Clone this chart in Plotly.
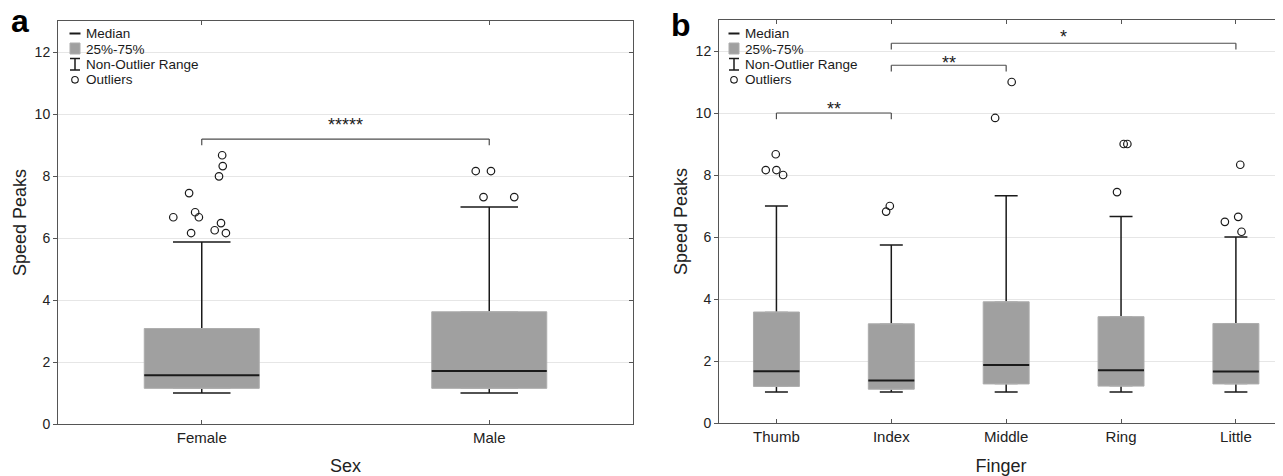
import plotly.graph_objects as go

# page places the figure with an 8px body margin; compensate so the figure fills the 1283x476 view
OFF = 8
W, H = 1283 - OFF, 476 - OFF

# ---------------- data: panel a (Sex) ----------------
sex_cats = ["Female", "Male"]
sex_q1 = [1.15, 1.15]
sex_median = [1.57, 1.71]
sex_q3 = [3.08, 3.62]
sex_low = [1.0, 1.0]
sex_high = [5.87, 7.0]
sex_out_group = [0, 0, 0, 0, 0, 0, 0, 0, 0, 0, 0, 1, 1, 1, 1]
sex_out_jitter = [0.071, 0.073, 0.060, -0.044, -0.023, -0.099, -0.010, 0.067, -0.037, 0.045, 0.084,
                  -0.047, 0.006, -0.020, 0.087]
sex_out_values = [8.67, 8.32, 7.99, 7.45, 6.83, 6.67, 6.67, 6.48, 6.16, 6.25, 6.16,
                  8.16, 8.16, 7.32, 7.32]
sex_brackets = [(0, 1, 9.19, "*****", 9.66)]

# ---------------- data: panel b (Finger) ----------------
finger_cats = ["Thumb", "Index", "Middle", "Ring", "Little"]
finger_q1 = [1.18, 1.09, 1.26, 1.19, 1.26]
finger_median = [1.67, 1.37, 1.87, 1.70, 1.66]
finger_q3 = [3.58, 3.20, 3.91, 3.43, 3.21]
finger_low = [1.0, 1.0, 1.0, 1.0, 1.0]
finger_high = [7.0, 5.74, 7.33, 6.66, 6.0]
finger_out_group = [0, 0, 0, 0, 1, 1, 2, 2, 3, 3, 3, 4, 4, 4, 4]
finger_out_jitter = [-0.093, 0.0, -0.006, 0.058, -0.045, -0.013, -0.096, 0.048,
                     -0.035, 0.023, 0.055, -0.096, 0.020, 0.049, 0.038]
finger_out_values = [8.16, 8.16, 8.67, 8.0, 6.82, 7.0, 9.84, 11.0,
                     7.45, 9.0, 9.0, 6.49, 6.65, 6.17, 8.33]
finger_brackets = [(0, 1, 10.0, "**", 10.13), (1, 2, 11.54, "**", 11.61), (1, 4, 12.25, "*", 12.46)]

y_ticks = [0, 2, 4, 6, 8, 10, 12]
legend_labels = ["Median", "25%-75%", "Non-Outlier Range", "Outliers"]

# ---------------- style ----------------
FONT = "Liberation Sans, Arial, sans-serif"
BOX_FILL = "#a0a0a0"
BOX_EDGE = "#adadad"
INK = "#1a1a1a"
AXIS = "#555555"
GRID = "#e6e6e6"
BOX_W = 0.4
BRACKET_DROP = 0.2


def px_x(p):
    return (p - OFF) / W


def px_y(p):
    return 1 - (p - OFF) / H


fig = go.Figure()


def add_panel(xref, yref, cats, q1, med, q3, lo, hi, og, oj, ov):
    pos = list(range(len(cats)))
    common = dict(x=pos, orientation="v", width=BOX_W, whiskerwidth=0.5, boxpoints=False,
                  showlegend=False, hoverinfo="skip", xaxis=xref, yaxis=yref)
    # whiskers (from median to fences) - box body covers the inner part
    fig.add_trace(go.Box(q1=med, median=med, q3=med, lowerfence=lo, upperfence=hi,
                         line=dict(color=INK, width=1.5), fillcolor="rgba(0,0,0,0)", **common))
    # 25%-75% body
    fig.add_trace(go.Box(q1=q1, median=med, q3=q3, lowerfence=q1, upperfence=q3,
                         line=dict(color=BOX_EDGE, width=1), fillcolor=BOX_FILL, **common))
    # median line
    fig.add_trace(go.Box(q1=med, median=med, q3=med, lowerfence=med, upperfence=med,
                         line=dict(color=INK, width=2), fillcolor="rgba(0,0,0,0)", **common))
    # outliers
    fig.add_trace(go.Scatter(x=[g + j for g, j in zip(og, oj)], y=ov, mode="markers",
                             marker=dict(symbol="circle-open", size=7.5, color=INK,
                                         line=dict(width=1.2, color=INK)),
                             showlegend=False, hoverinfo="skip", xaxis=xref, yaxis=yref))


add_panel("x", "y", sex_cats, sex_q1, sex_median, sex_q3, sex_low, sex_high,
          sex_out_group, sex_out_jitter, sex_out_values)
add_panel("x2", "y2", finger_cats, finger_q1, finger_median, finger_q3, finger_low, finger_high,
          finger_out_group, finger_out_jitter, finger_out_values)

# dummy trace so the right-hand (inside-tick) overlay axis of panel a is drawn
fig.add_trace(go.Scatter(x=[None], y=[None], xaxis="x", yaxis="y3", showlegend=False, hoverinfo="skip"))

shapes = []
annotations = []

# significance brackets
for xr, yr, brackets in (("x", "y", sex_brackets), ("x2", "y2", finger_brackets)):
    for i, j, yv, lab, ylab in brackets:
        for (x0, y0, x1, y1) in ((i, yv - BRACKET_DROP, i, yv), (i, yv, j, yv), (j, yv, j, yv - BRACKET_DROP)):
            shapes.append(dict(type="line", xref=xr, yref=yr, x0=x0, y0=y0, x1=x1, y1=y1,
                               line=dict(color="#4d4d4d", width=1.2)))
        annotations.append(dict(x=(i + j) / 2, y=ylab, xref=xr, yref=yr, text=lab, showarrow=False,
                                xanchor="center", yanchor="middle",
                                font=dict(family=FONT, size=18, color=INK)))

# custom legends (pixel positions inside each panel)
for sym_cx, text_x in ((75, 85), (734, 744)):
    shapes.append(dict(type="line", xref="paper", yref="paper", x0=px_x(sym_cx - 5.5), x1=px_x(sym_cx + 5.5),
                       y0=px_y(33.5), y1=px_y(33.5), line=dict(color=INK, width=2)))
    shapes.append(dict(type="rect", xref="paper", yref="paper", x0=px_x(sym_cx - 5), x1=px_x(sym_cx + 5),
                       y0=px_y(54), y1=px_y(43), fillcolor=BOX_FILL, line=dict(color=BOX_EDGE, width=1)))
    shapes.append(dict(type="line", xref="paper", yref="paper", x0=px_x(sym_cx), x1=px_x(sym_cx),
                       y0=px_y(58.5), y1=px_y(70), line=dict(color=INK, width=1.5)))
    for yy in (58.5, 70):
        shapes.append(dict(type="line", xref="paper", yref="paper", x0=px_x(sym_cx - 5), x1=px_x(sym_cx + 5),
                           y0=px_y(yy), y1=px_y(yy), line=dict(color=INK, width=1.5)))
    shapes.append(dict(type="circle", xref="paper", yref="paper", x0=px_x(sym_cx - 3.3), x1=px_x(sym_cx + 3.3),
                       y0=px_y(79.8 - 3.3), y1=px_y(79.8 + 3.3), line=dict(color=INK, width=1.1)))
    for lab, yc in zip(legend_labels, (33.5, 49, 64, 79.5)):
        annotations.append(dict(x=px_x(text_x), y=px_y(yc), xref="paper", yref="paper", text=lab,
                                showarrow=False, xanchor="left", yanchor="middle",
                                font=dict(family=FONT, size=13.5, color=INK), borderpad=0))

# panel letters
annotations.append(dict(x=px_x(9), y=px_y(21), xref="paper", yref="paper", text="<b>a</b>", showarrow=False,
                        xanchor="left", yanchor="middle", font=dict(family=FONT, size=32, color="#000")))
annotations.append(dict(x=px_x(669), y=px_y(25), xref="paper", yref="paper", text="<b>b</b>", showarrow=False,
                        xanchor="left", yanchor="middle", font=dict(family=FONT, size=32, color="#000")))

xa_dom = [px_x(58), px_x(633)]
xb_dom = [px_x(719), 1.0]
ya_dom = [px_y(424), px_y(21)]
yb_dom = [px_y(423), px_y(20)]

tickfont = dict(family=FONT, size=14, color="#222")
catfont = dict(family=FONT, size=15, color="#222")
titlefont = dict(family=FONT, size=18, color="#222")

base_y = dict(range=[0, 13], tickvals=y_ticks, showgrid=True, gridcolor=GRID, gridwidth=1,
              zeroline=False, showline=True, linecolor=AXIS, linewidth=1, ticks="outside", ticklen=4,
              tickcolor=AXIS, tickfont=tickfont,
              title=dict(text="Speed Peaks", font=titlefont, standoff=3))
base_x = dict(showgrid=False, zeroline=False, showline=True, linecolor=AXIS, linewidth=1, mirror="ticks",
              ticks="inside", ticklen=4, tickcolor=AXIS, tickfont=catfont)

fig.update_layout(
    width=W, height=H,
    margin=dict(l=0, r=0, t=0, b=0, autoexpand=False),
    paper_bgcolor="white", plot_bgcolor="white",
    boxmode="overlay",
    showlegend=False,
    xaxis=dict(domain=xa_dom, anchor="y", range=[-0.5, 1.5], tickvals=[0, 1], ticktext=sex_cats,
               title=dict(text="Sex", font=titlefont, standoff=16), **base_x),
    yaxis=dict(domain=ya_dom, anchor="x", mirror=True, **base_y),
    xaxis2=dict(domain=xb_dom, anchor="y2", range=[-0.5, 4.41], tickvals=list(range(5)), ticktext=finger_cats,
                title=dict(text="Finger", font=titlefont, standoff=16), **base_x),
    yaxis2=dict(domain=yb_dom, anchor="x2", mirror=False, **base_y),
    yaxis3=dict(overlaying="y", matches="y", side="right", anchor="x", ticks="inside", ticklen=4, tickcolor=AXIS,
                tickvals=y_ticks, showticklabels=False, showgrid=False, zeroline=False, showline=False),
    shapes=shapes,
    annotations=annotations,
)

fig.write_html("out.html")
